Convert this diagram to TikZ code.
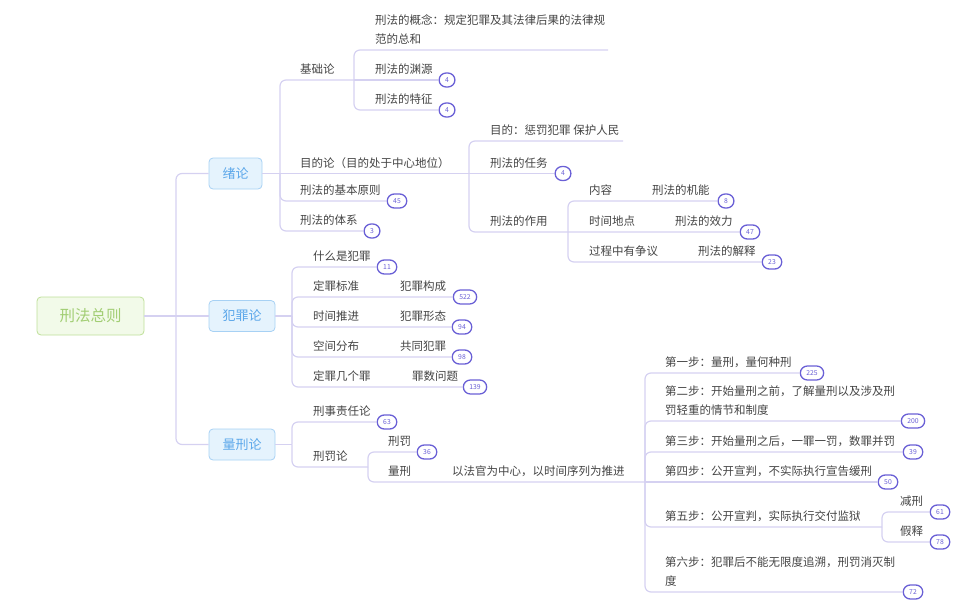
\documentclass[tikz,border=0pt]{standalone}
\usepackage{fontspec}
\setmainfont{Noto Sans CJK SC}
\usepackage{tikz}
\usetikzlibrary{positioning}
\definecolor{linkcol}{HTML}{D5D1F1}
\definecolor{badgecol}{HTML}{6A60D6}
\definecolor{txtcol}{HTML}{444444}
\definecolor{rootfill}{HTML}{F2FAE9}
\definecolor{rootdraw}{HTML}{BEDF98}
\definecolor{roottxt}{HTML}{A2CE74}
\definecolor{secfill}{HTML}{E5F3FD}
\definecolor{secdraw}{HTML}{A7D1F4}
\definecolor{sectxt}{HTML}{5BA7EA}

\begin{document}
\begin{tikzpicture}[x=1pt, y=-1pt,
  topic/.style={anchor=south west, inner sep=0pt, text=txtcol, align=left, font=\fontsize{11.5}{19}\selectfont},
  badge/.style={draw=badgecol, line width=1.3pt, rounded corners=7pt, fill=white, text=badgecol, minimum width=15pt, minimum height=14pt, inner xsep=6pt, inner ysep=0pt, font=\fontsize{6.8}{6.8}\selectfont},
  link/.style={draw=linkcol, line width=1.2pt, rounded corners=6pt},
  rootbox/.style={draw=rootdraw, fill=rootfill, text=roottxt, line width=0.8pt, rounded corners=4pt, minimum width=107pt, minimum height=38pt, font=\fontsize{15.5}{15.5}\selectfont},
  secbox/.style={draw=secdraw, fill=secfill, text=sectxt, line width=0.8pt, rounded corners=4pt, minimum height=31pt, inner xsep=13.5pt, font=\fontsize{13}{13}\selectfont}]
\useasboundingbox (0,0) rectangle (964,602);
\node[rootbox] (root) at (90.5,316) {刑法总则};
\node[secbox] (intro) at (235.5,173.5) {绪论};
\node[secbox] (crime) at (242,316) {犯罪论};
\node[secbox] (measure) at (242,444.5) {量刑论};
\coordinate (trunk) at (176,316);
\coordinate (jA) at (280,173.5);
\coordinate (jB) at (354,80);
\coordinate (jC) at (469,173.5);
\coordinate (jD) at (568,232);
\coordinate (jE) at (292,316);
\coordinate (jF) at (292,444.5);
\coordinate (jG) at (368,467);
\coordinate (jH) at (645,482);
\coordinate (jI) at (882,527);
\coordinate (e1) at (608,50);
\coordinate (e2) at (623,141);

\node[topic] (basis) at (300,75) {基础论};
\node[topic] (concept) at (375,45) {刑法的概念：规定犯罪及其法律后果的法律规\\范的总和};
\node[topic] (source) at (375,75) {刑法的渊源};
\node[topic] (feature) at (375,105) {刑法的特征};
\node[topic] (purpose) at (300,168.5) {目的论（目的处于中心地位）};
\node[topic] (aim) at (490,136) {目的：惩罚犯罪 保护人民};
\node[topic] (task) at (490,168.5) {刑法的任务};
\node[topic] (role) at (490,227) {刑法的作用};
\node[topic] (content) at (589,196) {内容};
\node[topic] (function) at (652,196) {刑法的机能};
\node[topic] (timeplace) at (589,227) {时间地点};
\node[topic] (validity) at (675,227) {刑法的效力};
\node[topic] (dispute) at (589,257) {过程中有争议};
\node[topic] (interp) at (698,257) {刑法的解释};
\node[topic] (principle) at (300,196) {刑法的基本原则};
\node[topic] (system) at (300,226) {刑法的体系};
\node[topic] (whatcrime) at (313,262) {什么是犯罪};
\node[topic] (standard) at (313,292) {定罪标准};
\node[topic] (constitution) at (400,292) {犯罪构成};
\node[topic] (timeline) at (313,322) {时间推进};
\node[topic] (form) at (400,322) {犯罪形态};
\node[topic] (space) at (313,352) {空间分布};
\node[topic] (joint) at (400,352) {共同犯罪};
\node[topic] (count) at (313,382) {定罪几个罪};
\node[topic] (plural) at (412,382) {罪数问题};
\node[topic] (liability) at (313,417) {刑事责任论};
\node[topic] (punish) at (313,462) {刑罚论};
\node[topic] (penalty) at (388,447) {刑罚};
\node[topic] (sentencing) at (388,477) {量刑};
\node[topic] (judge) at (452,477) {以法官为中心，以时间序列为推进};
\node[topic] (step1) at (665,368) {第一步：量刑，量何种刑};
\node[topic] (step2) at (665,416) {第二步：开始量刑之前，了解量刑以及涉及刑\\罚轻重的情节和制度};
\node[topic] (step3) at (665,447) {第三步：开始量刑之后，一罪一罚，数罪并罚};
\node[topic] (step4) at (665,477) {第四步：公开宣判，不实际执行宣告缓刑};
\node[topic] (step5) at (665,522) {第五步：公开宣判，实际执行交付监狱};
\node[topic] (step6) at (665,587) {第六步：犯罪后不能无限度追溯，刑罚消灭制\\度};
\node[topic] (reduce) at (900,507) {减刑};
\node[topic] (parole) at (900,537) {假释};

\node[badge] (bsource) at (447,80) {4};
\node[badge] (bfeature) at (447,110) {4};
\node[badge] (btask) at (563,173.5) {4};
\node[badge] (bfunction) at (726,201) {8};
\node[badge] (bvalidity) at (750,232) {47};
\node[badge] (binterp) at (772,262) {23};
\node[badge] (bprinciple) at (397,201) {45};
\node[badge] (bsystem) at (372,231) {3};
\node[badge] (bwhatcrime) at (387,267) {11};
\node[badge] (bconstitution) at (465,297) {522};
\node[badge] (bform) at (462,327) {94};
\node[badge] (bjoint) at (462,357) {98};
\node[badge] (bplural) at (475,387) {139};
\node[badge] (bliability) at (387,422) {63};
\node[badge] (bpenalty) at (427,452) {36};
\node[badge] (bstep1) at (812,373) {225};
\node[badge] (bstep2) at (913,421) {200};
\node[badge] (bstep3) at (913,452) {39};
\node[badge] (bstep4) at (888,482) {50};
\node[badge] (breduce) at (940,512) {61};
\node[badge] (bparole) at (940,542) {78};
\node[badge] (bstep6) at (913,592) {72};

\draw[link] (root) -- (crime);
\draw[link] (trunk) |- (intro);
\draw[link] (trunk) |- (measure);
\draw[link] (intro) -- (jA);
\draw[link] (jA) |- (jB);
\draw[link] (jA) -- (jC);
\draw[link] (jA) |- (bprinciple);
\draw[link] (jA) |- (bsystem);
\draw[link] (jB) |- (e1);
\draw[link] (jB) -- (bsource);
\draw[link] (jB) |- (bfeature);
\draw[link] (jC) |- (e2);
\draw[link] (jC) -- (btask);
\draw[link] (jC) |- (bvalidity);
\draw[link] (jD) |- (bfunction);
\draw[link] (jD) |- (binterp);
\draw[link] (crime) -- (jE);
\draw[link] (jE) |- (bwhatcrime);
\draw[link] (jE) |- (bconstitution);
\draw[link] (jE) |- (bform);
\draw[link] (jE) |- (bjoint);
\draw[link] (jE) |- (bplural);
\draw[link] (measure) -- (jF);
\draw[link] (jF) |- (bliability);
\draw[link] (jF) |- (jG);
\draw[link] (jG) |- (bpenalty);
\draw[link] (jG) |- (jH);
\draw[link] (jH) |- (bstep1);
\draw[link] (jH) |- (bstep2);
\draw[link] (jH) |- (bstep3);
\draw[link] (jH) -- (bstep4);
\draw[link] (jH) |- (jI);
\draw[link] (jH) |- (bstep6);
\draw[link] (jI) |- (breduce);
\draw[link] (jI) |- (bparole);
\end{tikzpicture}
\end{document}
